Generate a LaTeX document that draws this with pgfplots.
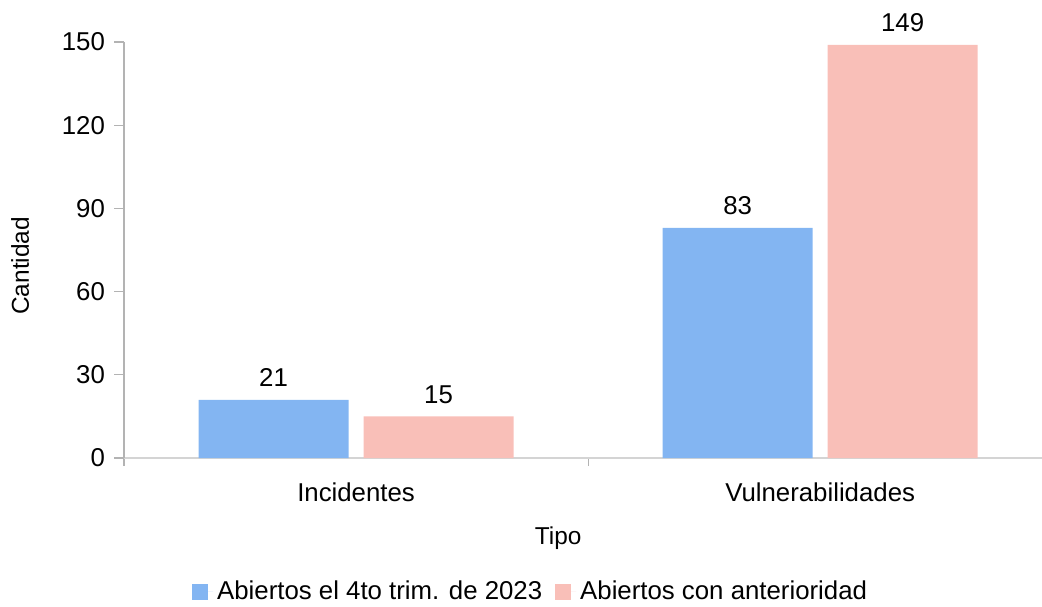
\documentclass[border=0pt]{standalone}
\usepackage{fontspec}
\setmainfont{Liberation Sans}
\usepackage{pgfplots}
\pgfplotsset{compat=1.18}
\definecolor{cblue}{HTML}{83B5F2}
\definecolor{cpink}{HTML}{F9BFB8}
\definecolor{axgray}{HTML}{B3B3B3}
\definecolor{xgray}{HTML}{D4D4D4}
\begin{document}
\begin{tikzpicture}
\useasboundingbox (0,0) rectangle (521pt,303pt);
\begin{axis}[
  at={(62pt,74pt)}, anchor=south west,
  width=459pt, height=208pt, scale only axis,
  xmin=-0.5, xmax=1.478, ymin=0, ymax=150,
  ytick={0,30,...,150},
  xtick={0,1}, xticklabels={Incidentes,Vulnerabilidades},
  minor xtick={-0.5,0.5},
  axis x line*=bottom, axis y line*=left,
  x axis line style={draw=xgray, line width=0.6pt},
  y axis line style={draw=axgray, line width=0.6pt},
  tick align=outside, major tick length=5pt, minor tick length=4pt,
  major x tick style={draw=none},
  minor x tick style={draw=axgray, line width=0.6pt},
  y tick style={draw=axgray, line width=0.6pt},
  /pgf/number format/assume math mode=true,
  ticklabel style={font=\fontsize{12.9}{15}\selectfont},
  yticklabel style={anchor=east, xshift=-1pt},
  xticklabel style={yshift=-4pt},
  ylabel={Cantidad},
  xlabel={Tipo},
  label style={font=\fontsize{12.2}{14}\selectfont},
  ylabel style={at={(axis description cs:-0.113,0.462)}, anchor=center, rotate=0},
  xlabel style={at={(axis description cs:0.473,-0.192)}, anchor=center},
  ybar=7.5pt, bar width=75pt,
  nodes near coords,
  every node near coord/.append style={font=\fontsize{12.9}{15}\selectfont, black, yshift=3pt},
  legend style={at={(axis description cs:0.444,-0.322)}, anchor=center, draw=none, inner sep=1pt,
    font=\fontsize{12.9}{15}\selectfont, /tikz/every even column/.append style={column sep=4.5pt}},
  legend columns=2,
  legend image code/.code={\path (0pt,0pt) -- (10.5pt,0pt); \fill[#1] (0pt,-4pt) rectangle (8pt,4pt);},
]
\addplot[fill=cblue, draw=none] coordinates {(0,21) (1,83)};
\addplot[fill=cpink, draw=none] coordinates {(0,15) (1,149)};
\legend{Abiertos el 4to trim. de 2023, Abiertos con anterioridad}
\end{axis}
\end{tikzpicture}
\end{document}
